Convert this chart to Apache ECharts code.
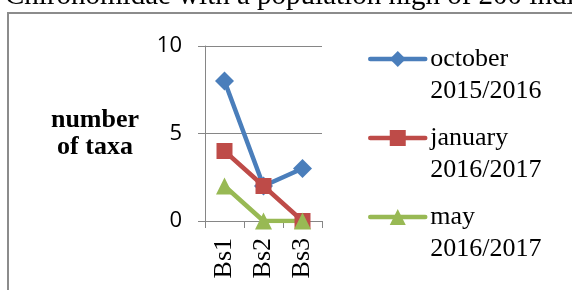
<!DOCTYPE html>
<html>
<head>
<meta charset="utf-8">
<script src="https://cdn.jsdelivr.net/npm/echarts@6/dist/echarts.min.js"></script>
<style>
  html, body { margin: 0; padding: 0; background: #fff; }
  #main { width: 572px; height: 290px; }
</style>
</head>
<body>
<div id="main"></div>
<script>
    // data
    var categories = ['Bs1', 'Bs2', 'Bs3'];
    var seriesNames = ['october\n2015/2016', 'january\n2016/2017', 'may\n2016/2017'];
    var october = [8, 2, 3];
    var january = [4, 2, 0];
    var may = [2, 0, 0];
    var yTicks = [0, 5, 10];

    var serif = '"Liberation Serif", "Times New Roman", serif';
    var grey = '#868686';

    var myChart = echarts.init(document.getElementById('main'));

    function lineSeries(name, data, color, symbol, size) {
        return {
            name: name,
            type: 'line',
            data: data,
            symbol: symbol,
            symbolSize: size,
            showAllSymbol: true,
            color: color,
            lineStyle: { color: color, width: 4.5 },
            itemStyle: { color: color },
            animation: false
        };
    }

    var option = {
        animation: false,
        graphic: [
            {
                // paragraph text above the chart, cut at the top
                type: 'text',
                left: 5,
                top: -18,
                style: {
                    text: 'Chironomidae with a population high of 200 individuals',
                    font: '29px ' + serif,
                    fill: '#000'
                }
            },
            {
                // chart frame
                type: 'rect',
                shape: { x: 8, y: 13, width: 700, height: 400 },
                style: { fill: 'none', stroke: '#8c8c8c', lineWidth: 2 },
                z: -1
            }
        ],
        grid: {
            left: 205,
            right: 250,
            top: 46,
            bottom: 69
        },
        legend: {
            orient: 'vertical',
            left: 368,
            top: 11,
            padding: 0,
            itemWidth: 55,
            itemHeight: 20,
            itemGap: -17,
            data: seriesNames,
            lineStyle: { width: 4.5, cap: 'round' },
            // empty first line so the icon sits beside the first text line
            formatter: function(name) {
                return '\n' + name;
            },
            textStyle: {
                fontFamily: serif,
                fontSize: 26,
                lineHeight: 32,
                color: '#000'
            }
        },
        xAxis: {
            type: 'category',
            data: categories,
            axisLine: { lineStyle: { color: grey, width: 1 } },
            axisTick: { show: true, length: 7, lineStyle: { color: grey } },
            axisLabel: {
                rotate: 90,
                margin: 17,
                fontFamily: serif,
                fontSize: 26,
                color: '#000'
            }
        },
        yAxis: {
            type: 'value',
            min: yTicks[0],
            max: yTicks[yTicks.length - 1],
            interval: 5,
            name: 'number\nof taxa',
            nameLocation: 'middle',
            nameRotate: 0,
            nameGap: 110,
            nameTextStyle: {
                fontFamily: serif,
                fontWeight: 'bold',
                fontSize: 26,
                lineHeight: 27,
                color: '#000',
                align: 'center',
                verticalAlign: 'middle'
            },
            axisLine: { show: true, lineStyle: { color: grey, width: 1 } },
            axisTick: { show: true, length: 7, lineStyle: { color: grey } },
            splitLine: { lineStyle: { color: grey, width: 1 } },
            axisLabel: {
                margin: 23,
                fontFamily: '"Open Sans", sans-serif',
                fontSize: 22,
                color: '#000'
            }
        },
        series: [
            lineSeries(seriesNames[0], october, '#4A7EBB', 'diamond', 19),
            lineSeries(seriesNames[1], january, '#BE4B48', 'rect', 16),
            lineSeries(seriesNames[2], may, '#98B954', 'triangle', 17)
        ]
    };

    myChart.setOption(option);
</script>
</body>
</html>
